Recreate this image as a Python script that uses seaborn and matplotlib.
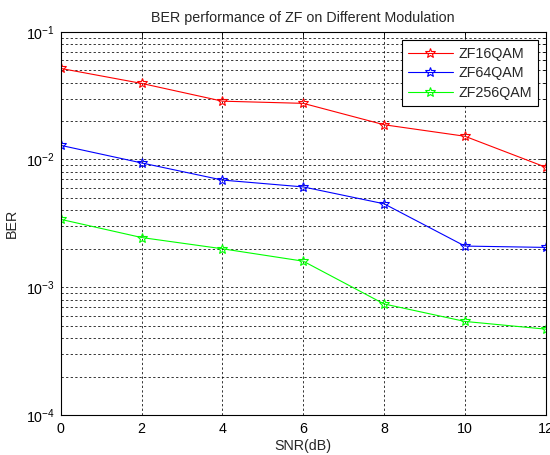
import numpy as np
import pandas as pd
import matplotlib
matplotlib.use("Agg")
import matplotlib.pyplot as plt
import seaborn as sns
from matplotlib.ticker import LogLocator, NullFormatter, FixedLocator

snr = [0, 2, 4, 6, 8, 10, 12]
series_names = ["ZF16QAM", "ZF64QAM", "ZF256QAM"]
ber_16qam = [0.0516, 0.0394, 0.0286, 0.0275, 0.0187, 0.0152, 0.0087]
ber_64qam = [0.0129, 0.0094, 0.0069, 0.0061, 0.0045, 0.0021, 0.00205]
ber_256qam = [0.0034, 0.00245, 0.0020, 0.0016, 0.00074, 0.00054, 0.00047]
colors = ["#ff0000", "#0000ff", "#00ff00"]
x_ticks = [0, 2, 4, 6, 8, 10, 12]

df = pd.DataFrame({
    "SNR": snr * 3,
    "BER": ber_16qam + ber_64qam + ber_256qam,
    "Scheme": sum([[n] * len(snr) for n in series_names], []),
})

FS = 10.3
sns.set_style("white")
plt.rcParams["font.family"] = ["Liberation Sans", "DejaVu Sans"]
plt.rcParams["mathtext.fontset"] = "custom"
plt.rcParams["mathtext.rm"] = "Liberation Sans"
plt.rcParams["font.size"] = FS

fig = plt.figure(figsize=(5.5, 4.55), dpi=100)
ax = fig.add_axes([0.1104, 0.0879, 0.9922 - 0.1104, 0.9303 - 0.0879])

sns.lineplot(data=df, x="SNR", y="BER", hue="Scheme", hue_order=series_names,
             palette=colors, marker="*", markersize=7.5, linewidth=0.8,
             legend=False, ax=ax)

for line, c in zip(ax.lines, colors):
    line.set_markerfacecolor("none")
    line.set_markeredgecolor(c)
    line.set_markeredgewidth(0.8)

ax.set_yscale("log")
ax.set_ylim(1e-4, 1e-1)
ax.set_xlim(0, 12)
ax.xaxis.set_major_locator(FixedLocator(x_ticks))
ax.yaxis.set_major_locator(LogLocator(base=10, numticks=10))
ax.yaxis.set_minor_locator(LogLocator(base=10, subs=np.arange(2, 10), numticks=20))
ax.yaxis.set_minor_formatter(NullFormatter())

ax.grid(True, which="major", axis="both", color="black", linestyle=(0, (3, 3)), linewidth=0.55)
ax.grid(True, which="minor", axis="y", color="black", linestyle=(0, (3, 3)), linewidth=0.55)

for s in ax.spines.values():
    s.set_color("black")
    s.set_linewidth(0.8)
ax.tick_params(which="both", direction="in", top=True, right=True, colors="black",
               labelsize=FS)
ax.tick_params(which="major", length=4, width=0.6, pad=4)
ax.tick_params(axis="x", which="major", pad=5)
ax.tick_params(which="minor", length=2.5, width=0.6)

ax.set_xlabel("SNR(dB)", fontsize=FS, labelpad=2.5)
ax.set_ylabel("BER", fontsize=FS, labelpad=5)
ax.set_title("BER performance of ZF on Different Modulation", fontsize=FS, pad=7)

leg = ax.legend(handles=ax.lines, labels=series_names, loc="upper right",
                bbox_to_anchor=(0.984, 0.978), fancybox=False, framealpha=1,
                edgecolor="black", fontsize=FS, handlelength=3.15,
                borderpad=0.45, labelspacing=0.4, handletextpad=0.35, borderaxespad=0)
leg.get_frame().set_linewidth(0.8)

fig.savefig("out.png", dpi=100)
